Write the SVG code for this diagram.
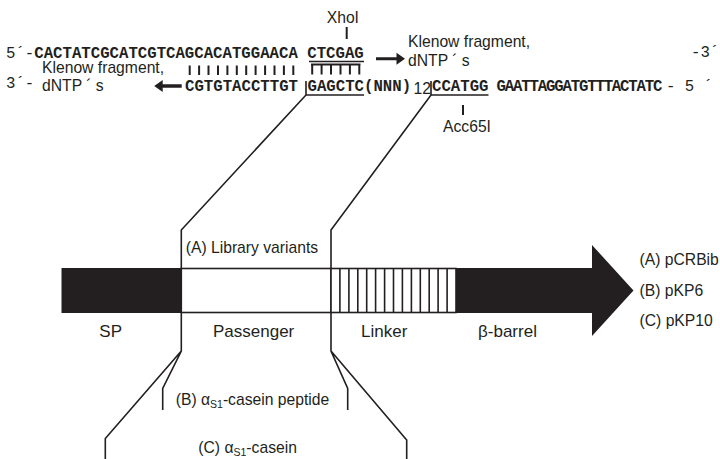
<svg xmlns="http://www.w3.org/2000/svg" width="720" height="459" viewBox="0 0 720 459">
<style>
.sans{font-family:"Liberation Sans",Arial,sans-serif;font-size:15.7px;fill:#231f20}
.big{font-size:17px}
.mono{font-family:"Liberation Mono","Courier New",monospace;font-size:15.7px;font-weight:bold;fill:#231f20}
.monor{font-family:"Liberation Mono","Courier New",monospace;font-size:15.7px;font-weight:normal;fill:#231f20}
.ln{stroke:#231f20;stroke-width:1.6;fill:none}
.tk{stroke:#231f20;stroke-width:2;fill:none}
.sub{font-size:10.5px}
</style>
<rect width="720" height="459" fill="#fff"/>
<g id="dna">
<text class="mono" x="6" y="58" xml:space="preserve"><tspan class="monor">5´-</tspan>CACTATCGCATCGTCAGCACATGGAACA CTCGAG</text>
<text class="monor" x="691" y="56.5" font-size="14.5px">-3´</text>
<text class="monor" x="6" y="87.5">3´-</text>
<text class="mono" x="185" y="90.5">CGTGTACCTTGT</text>
<text class="mono" x="307.5" y="90.5">GAGCTC(NNN)</text>
<text class="sans" x="413.5" y="93.5" font-size="11">12</text>
<text class="mono" x="432" y="90.5">CCATGG</text>
<text class="mono" x="496.5" y="90.5" textLength="166" lengthAdjust="spacing">GAATTAGGATGTTTACTATC</text>
<text class="monor" x="666" y="90.5" textLength="47" lengthAdjust="spacing">-5´</text>
<path class="tk" d="M189.7,65.5V75M199.1,65.5V75M208.5,65.5V75M218,65.5V75M227.4,65.5V75M236.8,65.5V75M246.2,65.5V75M255.6,65.5V75M265.1,65.5V75M274.5,65.5V75M283.9,65.5V75M293.3,65.5V75"/>
<path class="ln" d="M309,61.5H364"/>
<path class="tk" d="M311,64.5H360.5M312.2,64.5V74.5M321.6,64.5V74.5M331,64.5V74.5M340.5,64.5V74.5M349.9,64.5V74.5M359.3,64.5V74.5"/>
</g>
<g id="xhoi">
<text class="sans" x="326.7" y="23.3">XhoI</text>
<path class="tk" d="M346.7,27V39"/>
</g>
<g id="acc65i">
<path class="tk" d="M463,105V115"/>
<text class="sans" x="443" y="132">Acc65I</text>
</g>
<g id="klenow-right">
<text class="sans" x="408" y="46.5">Klenow fragment,</text>
<text class="sans" x="408" y="66" xml:space="preserve">dNTP ´ s</text>
<path d="M376,57.3h20.5v-4.5l8.5,6l-8.5,6v-4.5h-20.5z" fill="#231f20"/>
</g>
<g id="klenow-left">
<text class="sans" x="42" y="73">Klenow fragment,</text>
<text class="sans" x="42" y="90.5" xml:space="preserve">dNTP ´ s</text>
<path d="M181.7,84.3h-19v-4.2l-8.5,5.9l8.5,5.9v-4.2h19z" fill="#231f20"/>
</g>
<g id="sp">
<path d="M61.5,268H592V245L633.5,290.5L592,336V313H61.5Z" fill="#231f20"/>
<text class="sans big" x="99.3" y="337">SP</text>
</g>
<g id="passenger">
<rect x="181.3" y="268.5" width="149.7" height="44" fill="#fff" stroke="#231f20" stroke-width="1.6"/>
<text class="sans big" x="213" y="337">Passenger</text>
</g>
<g id="linker">
<rect x="331" y="268.5" width="125" height="44" fill="#fff" stroke="#231f20" stroke-width="1.6"/>
<path class="ln" d="M339.9,268.5V312.5M348.9,268.5V312.5M357.8,268.5V312.5M366.7,268.5V312.5M375.6,268.5V312.5M384.6,268.5V312.5M393.5,268.5V312.5M402.4,268.5V312.5M411.4,268.5V312.5M420.3,268.5V312.5M429.2,268.5V312.5M438.1,268.5V312.5M447.1,268.5V312.5"/>
<text class="sans big" x="361" y="337">Linker</text>
</g>
<g id="barrel">
<text class="sans big" x="478" y="337">β-barrel</text>
</g>
<g id="plasmids">
<text class="sans" x="639.5" y="265">(A) pCRBib</text>
<text class="sans" x="639.5" y="296">(B) pKP6</text>
<text class="sans" x="639.5" y="326">(C) pKP10</text>
</g>
<g id="inserts">
<text class="sans" x="185.7" y="253.3">(A) Library variants</text>
<text class="sans" x="175.7" y="405">(B) α<tspan class="sub" dy="3">S1</tspan><tspan dy="-3">-casein peptide</tspan></text>
<text class="sans" x="198.3" y="453.3">(C) α<tspan class="sub" dy="3">S1</tspan><tspan dy="-3">-casein</tspan></text>
</g>
<g id="connectors">
<path class="ln" d="M306,81V95H364"/>
<path class="ln" d="M306,95L181.3,230V268.5"/>
<path class="ln" d="M431,81V95H488.5"/>
<path class="ln" d="M431,95L331,230V268.5"/>
<path class="ln" d="M181.3,312.5V351L162.7,388.5V410M181.3,351L105.3,438.5V459"/>
<path class="ln" d="M331,312.5V351L347.7,388.5V410M331,351L406.7,440V459"/>
</g>
</svg>
